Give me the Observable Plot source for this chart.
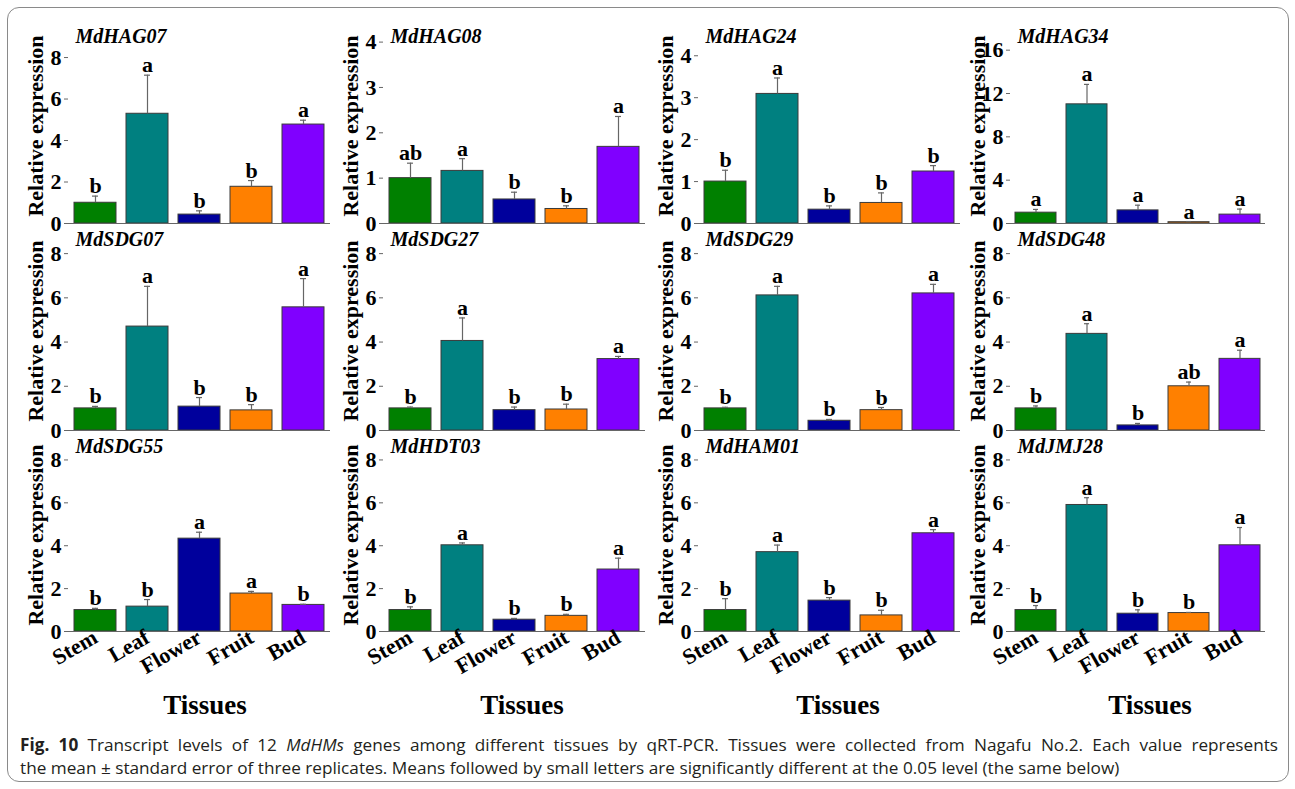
<!DOCTYPE html>
<html><head><meta charset="utf-8">
<script src="https://cdn.jsdelivr.net/npm/d3@7"></script>
<script src="https://cdn.jsdelivr.net/npm/@observablehq/plot@0.6"></script>
<style>
body{margin:0;background:#fff;}
#fig{position:relative;width:1295px;height:789px;overflow:hidden;background:#fff;}
.panel{position:absolute;}
.panel g[aria-label="y-axis tick label"] text{font-size:22px;}
.panel g[aria-label="x-axis tick label"] text{font-size:22px;}
.border{position:absolute;left:7px;top:7px;width:1282px;height:775px;border:1.5px solid #8a8a8a;border-radius:12px;box-sizing:border-box;}
.tissues{position:absolute;top:690px;width:200px;margin-left:-100px;text-align:center;font:bold 27px "Liberation Serif",serif;color:#000;}
.cap{position:absolute;left:20px;width:1258px;font:17.2px "Open Sans",sans-serif;color:#231f20;white-space:nowrap;}
.cap1{top:733px;text-align:justify;text-align-last:justify;}
.cap2{top:756px;}
</style></head>
<body><div id="fig"><div class="border"></div></div>
<script>
const tissues = ["Stem","Leaf","Flower","Fruit","Bud"];
const barColors = ["#008000","#008080","#00009c","#ff8000","#8000ff"];
const genes = ["MdHAG07","MdHAG08","MdHAG24","MdHAG34","MdSDG07","MdSDG27","MdSDG29","MdSDG48","MdSDG55","MdHDT03","MdHAM01","MdJMJ28"];
const means = [
  [1.0, 5.29, 0.43, 1.77, 4.77],
  [1.0, 1.16, 0.53, 0.32, 1.69],
  [1.0, 3.09, 0.33, 0.49, 1.24],
  [1.0, 11.0, 1.21, 0.12, 0.82],
  [1.0, 4.70, 1.08, 0.91, 5.57],
  [1.0, 4.05, 0.92, 0.95, 3.23],
  [1.0, 6.11, 0.44, 0.92, 6.20],
  [1.0, 4.37, 0.23, 2.00, 3.24],
  [1.0, 1.16, 4.33, 1.77, 1.24],
  [1.0, 4.02, 0.55, 0.73, 2.89],
  [1.0, 3.70, 1.44, 0.75, 4.58],
  [1.0, 5.90, 0.83, 0.86, 4.02]
];
const errors = [
  [0.32, 1.86, 0.18, 0.30, 0.21],
  [0.33, 0.27, 0.16, 0.07, 0.67],
  [0.27, 0.38, 0.09, 0.24, 0.14],
  [0.30, 1.84, 0.48, 0.06, 0.51],
  [0.09, 1.82, 0.41, 0.26, 1.30],
  [0.06, 1.04, 0.14, 0.24, 0.12],
  [0.05, 0.41, 0.06, 0.12, 0.41],
  [0.11, 0.46, 0.09, 0.19, 0.39],
  [0.08, 0.33, 0.30, 0.10, 0.03],
  [0.15, 0.11, 0.06, 0.07, 0.53],
  [0.53, 0.33, 0.14, 0.24, 0.17],
  [0.21, 0.34, 0.18, 0.03, 0.83]
];
const letters = [
  ["b","a","b","b","a"],
  ["ab","a","b","b","a"],
  ["b","a","b","b","b"],
  ["a","a","a","a","a"],
  ["b","a","b","b","a"],
  ["b","a","b","b","a"],
  ["b","a","b","b","a"],
  ["b","a","b","ab","a"],
  ["b","b","a","a","b"],
  ["b","a","b","b","a"],
  ["b","a","b","b","a"],
  ["b","a","b","b","a"]
];
const yMax = [9.4, 4.3, 4.65, 18, 9, 9, 9, 9, 9, 9, 9, 9];
const yTickStep = [2, 1, 1, 4, 2, 2, 2, 2, 2, 2, 2, 2];
const yLabel = "Relative expression";
const xTitle = "Tissues";

// layout
const colAxisX = [68, 383, 698, 1010];
const colAxisEnd = [330, 645, 960, 1265];
const rowTop = [28, 231, 438];
const rowBase = [223, 430, 631];
const titleCenters = [205, 522, 838, 1150];

const fig = document.getElementById("fig");
const mL = 60, mR = 4, mT = 2;

genes.forEach((gene, i) => {
  const row = Math.floor(i / 4), col = i % 4;
  const last = row === 2;
  const mB = last ? 62 : 10;
  const data = tissues.map((t, j) => ({tissue: t, mean: means[i][j], top: means[i][j] + errors[i][j], letter: letters[i][j]}));
  const width = mL + (colAxisEnd[col] - colAxisX[col]) + mR;
  const height = mT + (rowBase[row] - rowTop[row]) + mB;
  const ticks = d3.range(0, yMax[i] + 1e-9, yTickStep[i]);
  const marks = [
    Plot.barY(data, {x: "tissue", y: "mean", fill: "tissue", stroke: "#3a3a3a", strokeWidth: 1}),
    Plot.ruleX(data, {x: "tissue", y1: "mean", y2: "top", stroke: "#666", strokeWidth: 1.2}),
    Plot.tickY(data, {x: "tissue", y: "top", stroke: "#666", strokeWidth: 1.2, insetLeft: 18, insetRight: 18}),
    Plot.text(data, {x: "tissue", y: "top", text: "letter", dy: -3, lineAnchor: "bottom", fontSize: 22, fontWeight: "bold", fill: "#000"}),
    Plot.ruleY([0], {stroke: "#666", strokeWidth: 1.2}),
    Plot.text([gene], {text: d => d, frameAnchor: "top-left", dx: 7, dy: 0, lineAnchor: "top", fontSize: 20, fontWeight: "bold", fontStyle: "italic", fill: "#000"}),
    Plot.axisY({ticks, tickFormat: d3.format("d"), tickSize: 4, tickPadding: 3, fontSize: 22, stroke: "#666",
      label: yLabel, labelAnchor: "center", labelOffset: 41, labelArrow: "none"})
  ];
  if (last) {
    marks.push(Plot.axisX({tickRotate: -30, tickSize: 0, tickPadding: 4, fontSize: 22, label: null}));
  }
  const svg = Plot.plot({
    width, height,
    marginLeft: mL, marginRight: mR, marginTop: mT, marginBottom: mB,
    style: {fontFamily: '"Liberation Serif", serif', fontWeight: "bold", fontSize: "21px", color: "#000", background: "transparent", overflow: "visible"},
    x: {domain: tissues, paddingInner: 0.2, paddingOuter: 0.1, axis: last ? undefined : null},
    y: {domain: [0, yMax[i]], line: true},
    color: {domain: tissues, range: barColors},
    marks
  });
  svg.classList.add("panel");
  svg.style.left = (colAxisX[col] - mL) + "px";
  svg.style.top = (rowTop[row] - mT) + "px";
  fig.appendChild(svg);
});

titleCenters.forEach(cx => {
  const d = document.createElement("div");
  d.className = "tissues";
  d.style.left = cx + "px";
  d.textContent = xTitle;
  fig.appendChild(d);
});

const c1 = document.createElement("div");
c1.className = "cap cap1";
c1.innerHTML = '<b>Fig. 10</b> Transcript levels of 12 <i>MdHMs</i> genes among different tissues by qRT-PCR. Tissues were collected from Nagafu No.2. Each value represents';
fig.appendChild(c1);
const c2 = document.createElement("div");
c2.className = "cap cap2";
c2.textContent = "the mean \u00b1 standard error of three replicates. Means followed by small letters are significantly different at the 0.05 level (the same below)";
fig.appendChild(c2);
</script>
</body></html>
